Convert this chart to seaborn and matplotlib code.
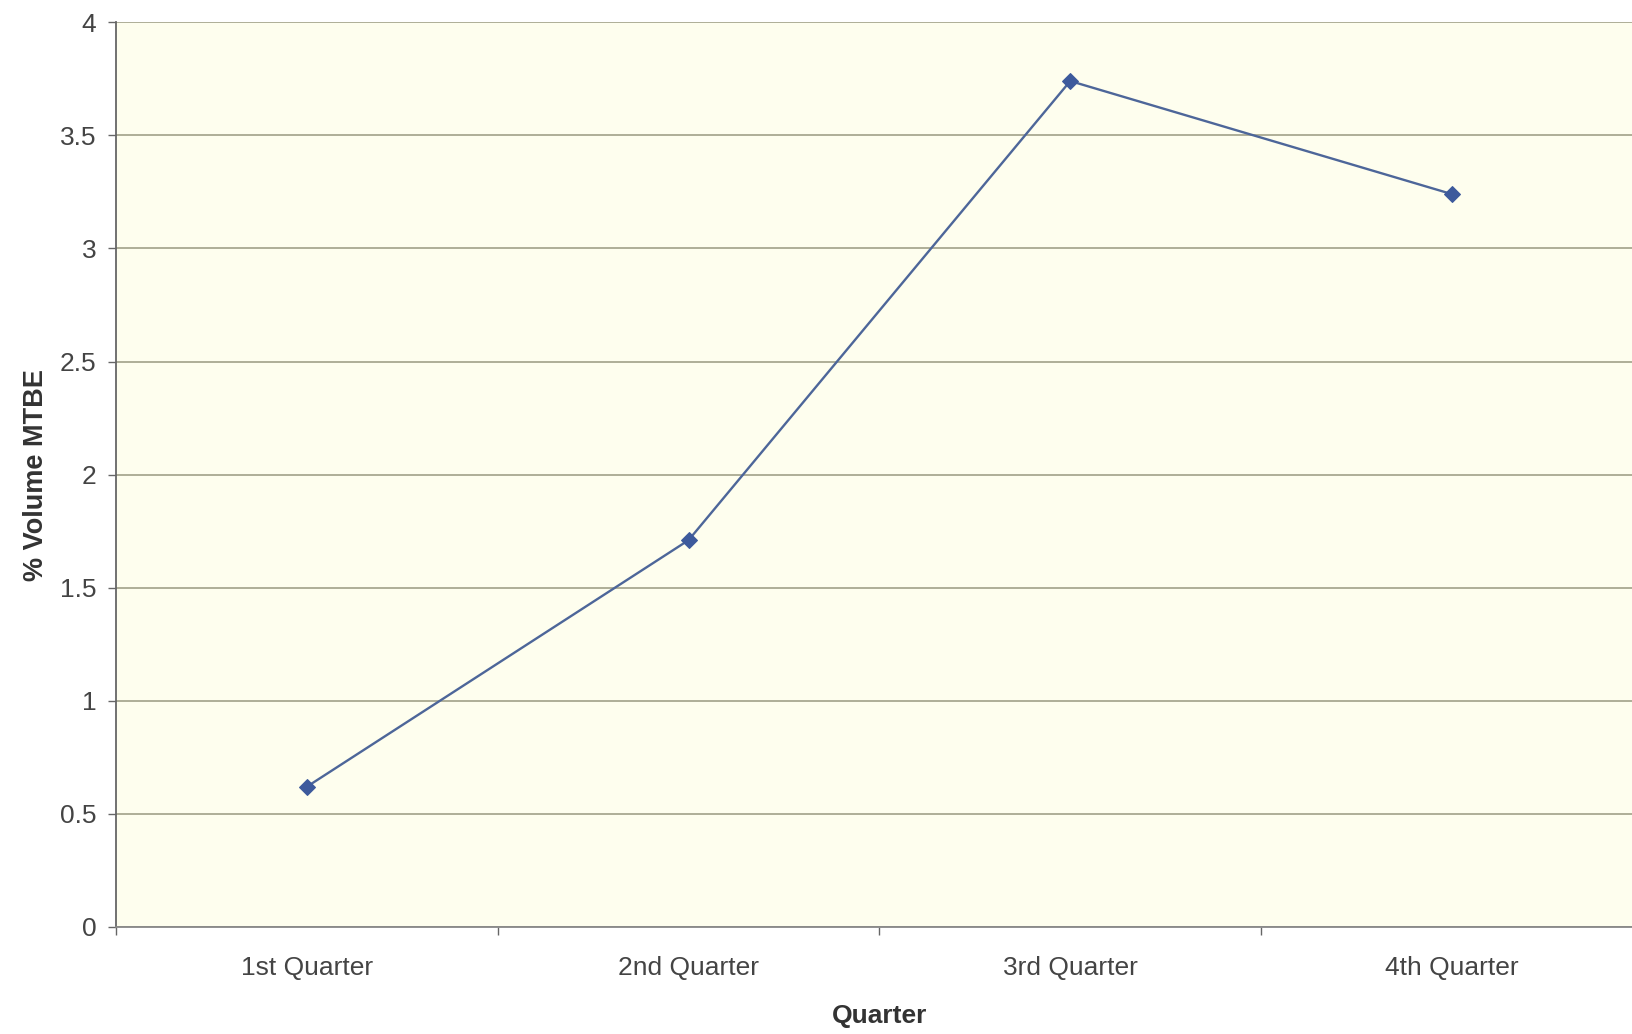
import matplotlib
matplotlib.use("Agg")
import matplotlib.pyplot as plt
import seaborn as sns
import pandas as pd
import numpy as np

quarters = ["1st Quarter", "2nd Quarter", "3rd Quarter", "4th Quarter"]
mtbe_pct = [0.62, 1.71, 3.74, 3.24]
y_ticks = [0, 0.5, 1, 1.5, 2, 2.5, 3, 3.5, 4]

df = pd.DataFrame({"pos": np.arange(len(quarters)), "Quarter": quarters, "MTBE": mtbe_pct})

sns.set_theme(style="white")
plt.rcParams["font.family"] = ["Liberation Sans", "DejaVu Sans"]

fig = plt.figure(figsize=(16.33, 10.34), dpi=100)
ax = fig.add_axes([0.071, 0.1035, 0.935, 0.875])
ax.set_facecolor("#fefeee")

sns.lineplot(data=df, x="pos", y="MTBE", ax=ax, color="#4d6699", linewidth=1.7,
             marker="D", markersize=8, markerfacecolor="#3d5a9c",
             markeredgecolor="#3d5a9c")

ax.set_ylim(0, 4)
ax.set_xlim(-0.5, len(quarters) - 0.5)
ax.set_yticks(y_ticks)
ax.set_yticklabels([f"{v:g}" for v in y_ticks])
ax.yaxis.grid(True, color="#a8a890", linewidth=1.3)
ax.xaxis.grid(False)

# category boundaries carry the tick marks, centres carry the labels
bounds = np.arange(-0.5, len(quarters), 1.0)
ax.set_xticks(bounds)
ax.set_xticklabels([""] * len(bounds))
ax.set_xticks(np.arange(len(quarters)), minor=True)
ax.set_xticklabels(quarters, minor=True)
ax.tick_params(axis="x", which="minor", length=0, pad=21, labelsize=19, labelcolor="#444444")
ax.tick_params(axis="x", which="major", length=6, width=1, color="#666666", direction="out", bottom=True)
ax.tick_params(axis="y", length=6, width=1, color="#666666", direction="out", left=True,
               labelsize=19, labelcolor="#444444", pad=8)

for side in ["top", "right"]:
    ax.spines[side].set_visible(False)
ax.spines["left"].set_color("#666666")
ax.spines["left"].set_linewidth(1.3)
ax.spines["bottom"].set_color("#888888")
ax.spines["bottom"].set_linewidth(1.3)

ax.set_xlabel("Quarter", fontsize=19, fontweight="bold", color="#333333", labelpad=17)
ax.set_ylabel("% Volume MTBE", fontsize=19.5, fontweight="bold", color="#333333", labelpad=8)

fig.savefig("out.png", dpi=100, facecolor="white")
